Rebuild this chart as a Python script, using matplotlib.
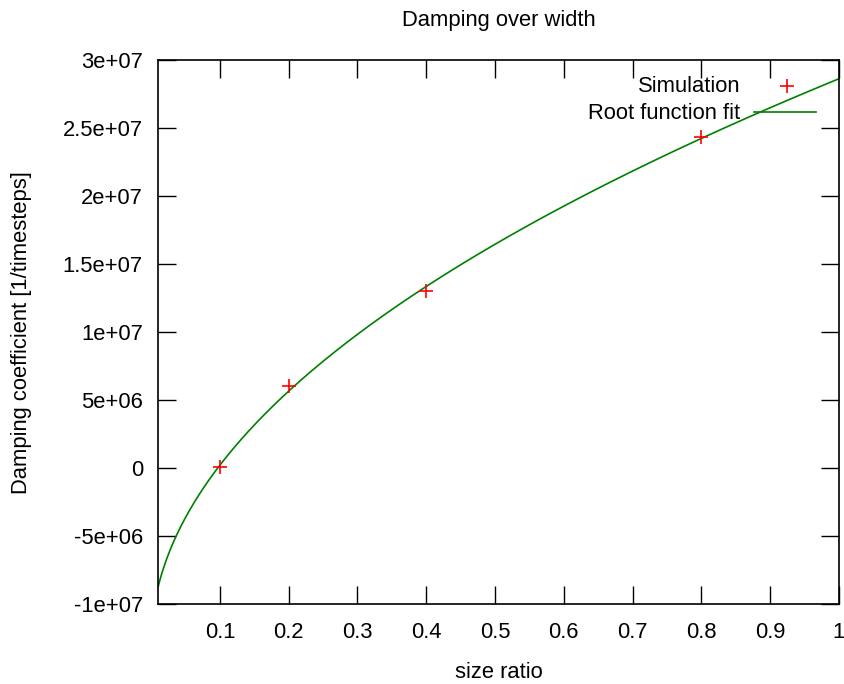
import matplotlib
matplotlib.use("Agg")
import matplotlib.pyplot as plt
import numpy as np

plt.rcParams["font.family"] = ["Liberation Sans", "DejaVu Sans"]

size_ratio = [0.1, 0.2, 0.4, 0.8]
damping = [1.0e5, 6.0e6, 1.3e7, 2.435e7]
x_ticks = [0.1, 0.2, 0.3, 0.4, 0.5, 0.6, 0.7, 0.8, 0.9, 1.0]
x_ticklabels = ["0.1", "0.2", "0.3", "0.4", "0.5", "0.6", "0.7", "0.8", "0.9", "1"]
y_ticks = [-1e7, -5e6, 0, 5e6, 1e7, 1.5e7, 2e7, 2.5e7, 3e7]
y_ticklabels = ["-1e+07", "-5e+06", "0", "5e+06", "1e+07", "1.5e+07", "2e+07", "2.5e+07", "3e+07"]

# root function fit: y = a*sqrt(x) + c
a, c = np.polyfit(np.sqrt(size_ratio), damping, 1)
xs = np.linspace(0.01, 1.0, 400)
ys = a * np.sqrt(xs) + c

W, H = 844, 684
FS = 15.8
MS = 9.8
fig = plt.figure(figsize=(W / 100, H / 100), dpi=100)
ax = fig.add_axes([158 / W, 80 / H, 681 / W, 544 / H])

ax.plot(xs, ys, color="#008000", linewidth=1.2)
ax.plot(size_ratio, damping, linestyle="none", marker="+", color="red",
        markersize=MS, markeredgewidth=1.2)

ax.set_xlim(0.01, 1.0)
ax.set_ylim(-1e7, 3e7)
ax.set_xticks(x_ticks)
ax.set_xticklabels(x_ticklabels)
ax.set_yticks(y_ticks)
ax.set_yticklabels(y_ticklabels)
ax.tick_params(direction="in", length=13, width=1, top=True, right=True,
               labelsize=FS, colors="black")
ax.tick_params(axis="y", pad=10.8)
ax.tick_params(axis="x", pad=13)
for sp in ax.spines.values():
    sp.set_linewidth(1.2)

fig.text(499 / W, 1 - 678 / H, "size ratio", fontsize=FS, ha="center", va="baseline")
fig.text(22 / W, 1 - 333 / H, "Damping coefficient [1/timesteps]", fontsize=FS,
         rotation=90, ha="center", va="center")
fig.text(499 / W, 1 - 26 / H, "Damping over width", fontsize=FS,
         ha="center", va="baseline")

# gnuplot-style legend: right aligned text, sample to the right
fig.text(740 / W, 1 - 92 / H, "Simulation", fontsize=FS, ha="right", va="baseline")
fig.text(740 / W, 1 - 119 / H, "Root function fit", fontsize=FS, ha="right", va="baseline")
ax.plot([787], [H - 86], transform=None, marker="+", color="red",
        markersize=MS, markeredgewidth=1.2, linestyle="none", clip_on=False)
ax.plot([754, 816], [H - 111.5, H - 111.5], transform=None,
        color="#008000", linewidth=1.2, clip_on=False)

fig.savefig("out.png", dpi=100)
